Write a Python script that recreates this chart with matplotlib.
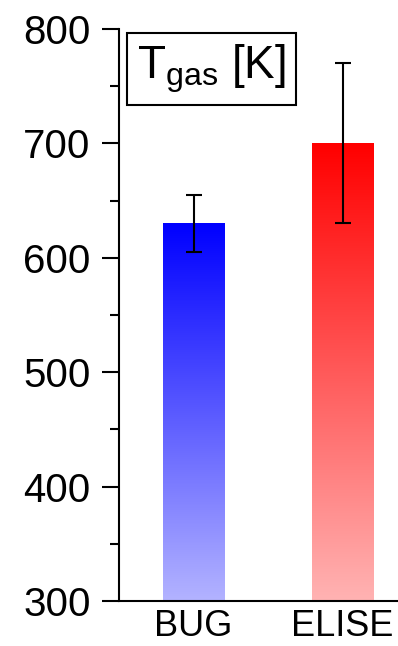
import numpy as np
import matplotlib
matplotlib.use("Agg")
import matplotlib.pyplot as plt
from matplotlib.colors import LinearSegmentedColormap
from matplotlib.ticker import MultipleLocator

categories = ["BUG", "ELISE"]
values = [630, 700]
errors = [25, 70]
top_colors = ["#0000ff", "#ff0000"]
bottom_colors = ["#b3b3ff", "#ffb3b3"]
label_text = "T$_\\mathregular{gas}$ [K]"

plt.rcParams['font.family'] = ['Liberation Sans', 'DejaVu Sans']
plt.rcParams['mathtext.fontset'] = 'custom'
plt.rcParams['mathtext.rm'] = 'Liberation Sans'

fig = plt.figure(figsize=(3.98, 6.46), dpi=100)
ax = fig.add_axes([119/398, 1-601/646, 1-119/398, (601-29)/646])

x = np.arange(len(categories))
bars = ax.bar(x, values, width=0.41, bottom=0, color='none', edgecolor='none', zorder=1)
ymin = 300
for b, v, tc, bc in zip(bars, values, top_colors, bottom_colors):
    cmap = LinearSegmentedColormap.from_list('g', [bc, tc])
    grad = np.linspace(0, 1, 256).reshape(-1, 1)
    ax.imshow(grad, extent=[b.get_x(), b.get_x()+b.get_width(), ymin, v],
              origin='lower', cmap=cmap, aspect='auto', zorder=1)

ax.errorbar(x, values, yerr=errors, fmt='none', ecolor='black', elinewidth=1.5,
            capsize=6, capthick=1.5, zorder=3)

ax.set_xlim(-0.5, 1.372)
ax.set_ylim(300, 800)
ax.set_xticks(x)
ax.set_xticklabels(categories)
ax.yaxis.set_major_locator(MultipleLocator(100))
ax.yaxis.set_minor_locator(MultipleLocator(50))

for s in ['top', 'right']:
    ax.spines[s].set_visible(False)
for s in ['left', 'bottom']:
    ax.spines[s].set_linewidth(1.5)

ax.tick_params(axis='y', which='major', direction='out', length=12.5, width=1.5,
               labelsize=29, pad=8)
ax.tick_params(axis='y', which='minor', direction='out', length=6.5, width=1.5)
ax.tick_params(axis='x', which='both', length=0, labelsize=26, pad=6)

ax.text(0.064, 0.976, label_text, transform=ax.transAxes, fontsize=33,
        ha='left', va='top',
        bbox=dict(boxstyle='square,pad=0.22', facecolor='white', edgecolor='black', linewidth=1.5))

fig.savefig('out.png', dpi=100)
